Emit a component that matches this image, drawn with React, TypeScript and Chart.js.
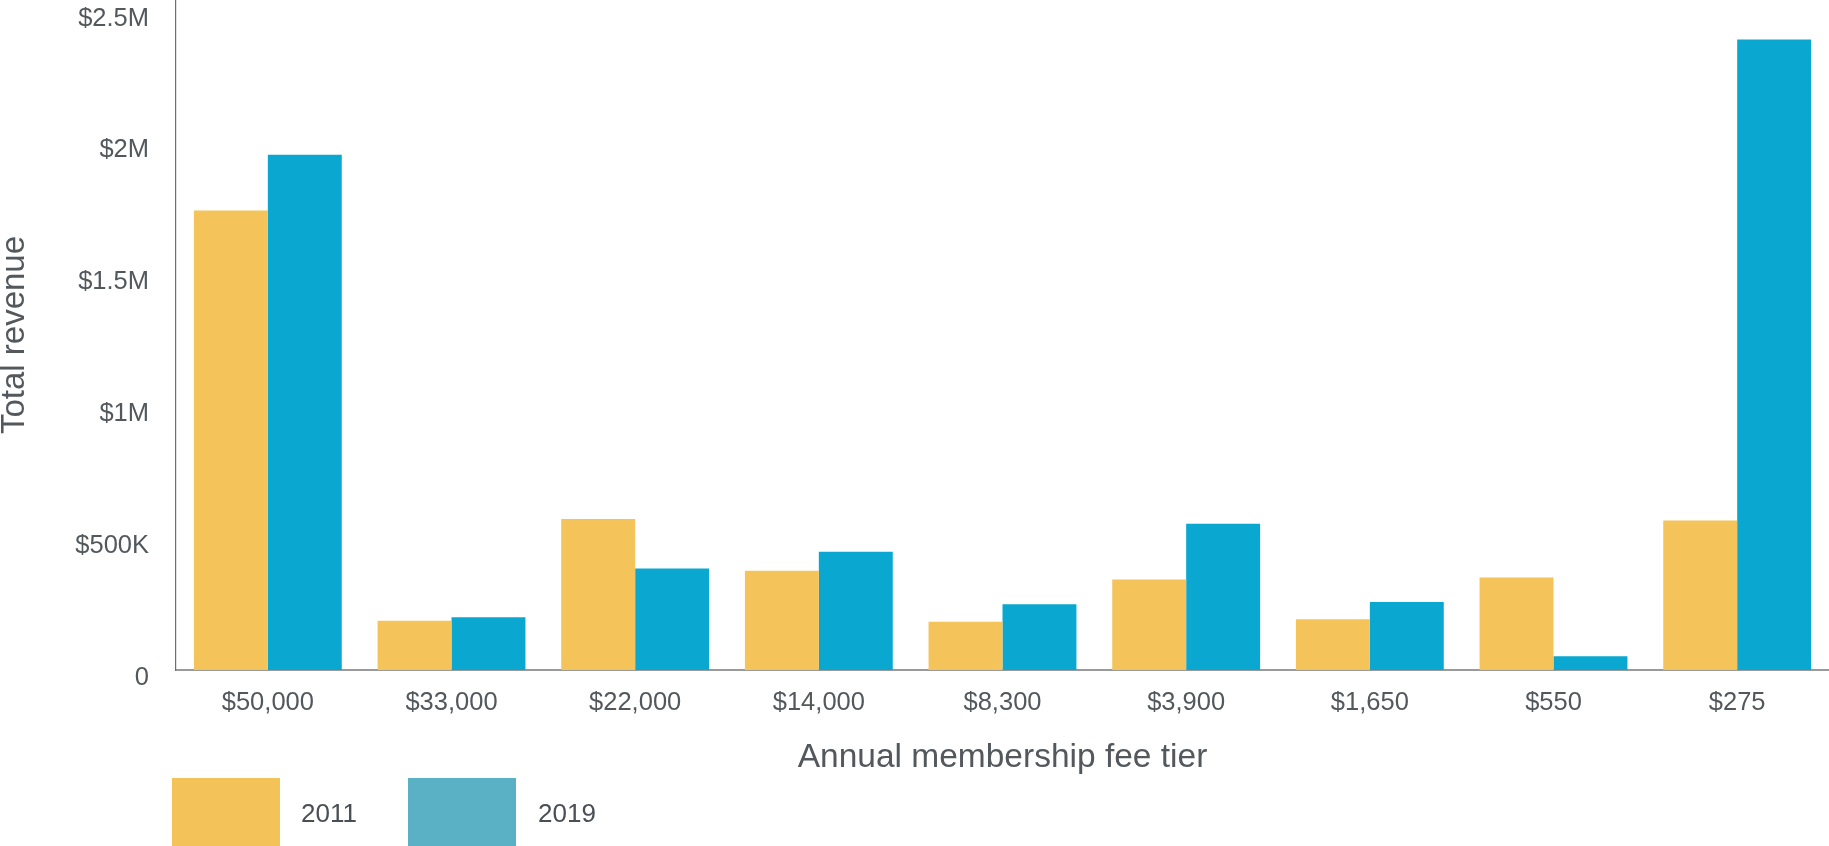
import React, { useEffect, useRef } from "react";
import { Chart, registerables } from "chart.js";

Chart.register(...registerables);

const categories = ["$50,000", "$33,000", "$22,000", "$14,000", "$8,300", "$3,900", "$1,650", "$550", "$275"];
const seriesLabels = ["2011", "2019"];
const revenue2011 = [1742000, 187000, 572000, 376000, 183000, 343000, 192000, 351000, 567000];
const revenue2019 = [1953000, 200000, 385000, 448000, 249000, 554000, 258000, 52000, 2390000];
const barColors = ["#F4C35A", "#0AA7D1"];
const legendColors = ["#F3C259", "#5AB1C6"];
const yTickValues = [0, 500000, 1000000, 1500000, 2000000, 2500000];
const yTickLabels = ["0", "$500K", "$1M", "$1.5M", "$2M", "$2.5M"];
const xTitle = "Annual membership fee tier";
const yTitle = "Total revenue";

const FONT = "'Liberation Sans', Arial, Helvetica, sans-serif";
const TEXT = "#53585d";

const legendPlugin = {
  id: "bottomLegend",
  afterDraw(chart: any) {
    const ctx = chart.ctx;
    const boxX = [172, 408];
    const textX = [301, 538];
    ctx.save();
    chart.data.datasets.forEach((ds: any, i: number) => {
      ctx.fillStyle = legendColors[i];
      ctx.fillRect(boxX[i], 778, 108, 70);
      ctx.fillStyle = "#4a4f55";
      ctx.font = `26px ${FONT}`;
      ctx.textAlign = "left";
      ctx.textBaseline = "middle";
      ctx.fillText(ds.label, textX[i], 815);
    });
    ctx.restore();
  },
};

export default function App() {
  const ref = useRef<HTMLCanvasElement>(null);
  useEffect(() => {
    if (!ref.current) return;
    const chart = new Chart(ref.current, {
      type: "bar",
      data: {
        labels: categories,
        datasets: [
          { label: seriesLabels[0], data: revenue2011, backgroundColor: barColors[0], borderWidth: 0 },
          { label: seriesLabels[1], data: revenue2019, backgroundColor: barColors[1], borderWidth: 0 },
        ],
      },
      plugins: [legendPlugin],
      options: {
        animation: false,
        responsive: false,
        devicePixelRatio: 1,
        layout: { padding: { top: 0, left: 0, right: 0, bottom: 68 } },
        datasets: { bar: { categoryPercentage: 0.805, barPercentage: 1 } },
        plugins: { legend: { display: false }, tooltip: { enabled: false } },
        scales: {
          x: {
            grid: { display: false, drawTicks: false },
            border: { display: true, color: "#9a9a9a", width: 2 },
            ticks: { padding: 18, color: TEXT, font: { family: FONT, size: 25.5 }, maxRotation: 0 },
            title: { display: true, text: xTitle, color: TEXT, font: { family: FONT, size: 33.5 }, padding: 0 },
            afterFit: (scale: any) => {
              scale.height = 108;
              scale.paddingLeft = 0;
              scale.paddingRight = 0;
            },
          },
          y: {
            min: 0,
            max: 2540000,
            grid: { display: false, drawTicks: false },
            border: { display: true, color: "#6f6f6f", width: 1.2 },
            ticks: {
              padding: 27,
              labelOffset: 8,
              color: TEXT,
              font: { family: FONT, size: 25.5 },
              callback: (v: any) => {
                const i = yTickValues.indexOf(Number(v));
                return i >= 0 ? yTickLabels[i] : "";
              },
            },
            afterBuildTicks: (scale: any) => {
              scale.ticks = yTickValues.map((v) => ({ value: v }));
            },
            title: { display: true, text: yTitle, color: TEXT, font: { family: FONT, size: 33, lineHeight: 0.9 }, padding: 0 },
            afterFit: (scale: any) => {
              scale.width = 176;
              scale.paddingTop = 0;
              scale.paddingBottom = 0;
            },
          },
        },
      },
    });
    return () => chart.destroy();
  }, []);
  return (
    <div style={{ position: "fixed", left: 0, top: 0, width: 1829, height: 846, background: "#fff", overflow: "hidden" }}>
      <canvas ref={ref} width={1829} height={846} style={{ display: "block" }} />
    </div>
  );
}
